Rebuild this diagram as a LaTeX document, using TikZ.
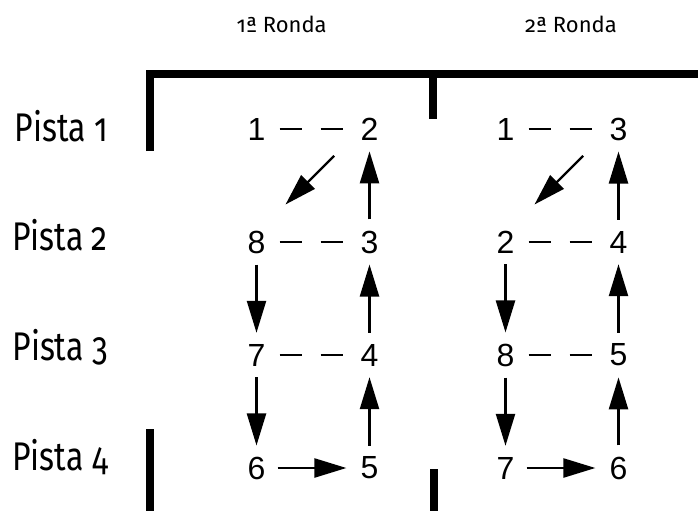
\documentclass[tikz,border=0pt]{standalone}
\usepackage{fontspec}
\setmainfont{Liberation Sans}
\newfontfamily\pistafont[Numbers=OldStyle,FakeStretch=0.8]{Fira Sans}
\newfontfamily\rondafont[Numbers=OldStyle]{Fira Sans}
\usepackage{tikz}
\usetikzlibrary{arrows.meta, positioning}

\begin{document}
\begin{tikzpicture}[x=1pt, y=-1pt, node distance=113pt, on grid,
	num/.style={inner sep=0pt, font=\fontsize{32}{36}\selectfont},
	pista/.style={anchor=base east, inner sep=0pt, font=\pistafont\fontsize{40}{44}\selectfont},
	ronda/.style={anchor=base west, inner sep=0pt, font=\rondafont\fontsize{22}{24}\selectfont},
	wall/.style={line width=8pt},
	flow/.style={-{Triangle[length=32pt,width=19pt]}, line width=2.4pt, shorten <=11pt, shorten >=11pt},
	pair/.style={line width=2.2pt, dash pattern=on 22pt off 19pt, shorten <=14pt, shorten >=16pt}]
			\useasboundingbox (0,0) rectangle (698,511);
			% walls
			\draw[wall] (150,151) -- (150,74) -- (698,74);
			\draw[wall] (433,74) -- (433,119);
			\draw[wall] (150,429) -- (150,511);
			\draw[wall] (434,469) -- (434,511);
			% labels
			\node[ronda] (r1) at (236.5,33) {1ª Ronda};
			\node[ronda] (r2) at (525,33) {2ª Ronda};
			\node[pista] (p1) at (108,141.5) {Pista 1};
			\node[pista] (p2) at (108,250) {Pista 2};
			\node[pista] (p3) at (108,360) {Pista 3};
			\node[pista] (p4) at (108,470) {Pista 4};
			% first round
			\node[num] (a1) at (256.5,129) {1};
			\node[num, right=of a1] (a2) {2};
			\node[num, below=of a1] (a8) {8};
			\node[num, right=of a8] (a3) {3};
			\node[num, below=of a8] (a7) {7};
			\node[num, right=of a7] (a4) {4};
			\node[num, below=of a7] (a6) {6};
			\node[num, right=of a6] (a5) {5};
			\draw[pair] (a1) -- (a2);
			\draw[pair] (a8) -- (a3);
			\draw[pair] (a7) -- (a4);
			\draw[flow, shorten <=50pt, shorten >=41pt] ([yshift=8.5pt]a2.center) -- ([yshift=8.5pt]a8.center);
			\draw[flow] (a8) -- (a7);
			\draw[flow] (a7) -- (a6);
			\draw[flow, shorten <=12pt, shorten >=14pt] (a6) -- (a5);
			\draw[flow] (a5) -- (a4);
			\draw[flow] (a4) -- (a3);
			\draw[flow] (a3) -- (a2);
			% second round
			\node[num, right=249pt of a1] (b1) {1};
			\node[num, right=of b1] (b3) {3};
			\node[num, below=of b1] (b2) {2};
			\node[num, right=of b2] (b4) {4};
			\node[num, below=of b2] (b8) {8};
			\node[num, right=of b8] (b5) {5};
			\node[num, below=of b8] (b7) {7};
			\node[num, right=of b7] (b6) {6};
			\draw[pair] (b1) -- (b3);
			\draw[pair] (b2) -- (b4);
			\draw[pair] (b8) -- (b5);
			\draw[flow, shorten <=50pt, shorten >=41pt] ([yshift=8.5pt]b3.center) -- ([yshift=8.5pt]b2.center);
			\draw[flow] (b2) -- (b8);
			\draw[flow] (b8) -- (b7);
			\draw[flow, shorten <=12pt, shorten >=14pt] (b7) -- (b6);
			\draw[flow] (b6) -- (b5);
			\draw[flow] (b5) -- (b4);
			\draw[flow] (b4) -- (b3);
		\end{tikzpicture}
\end{document}
